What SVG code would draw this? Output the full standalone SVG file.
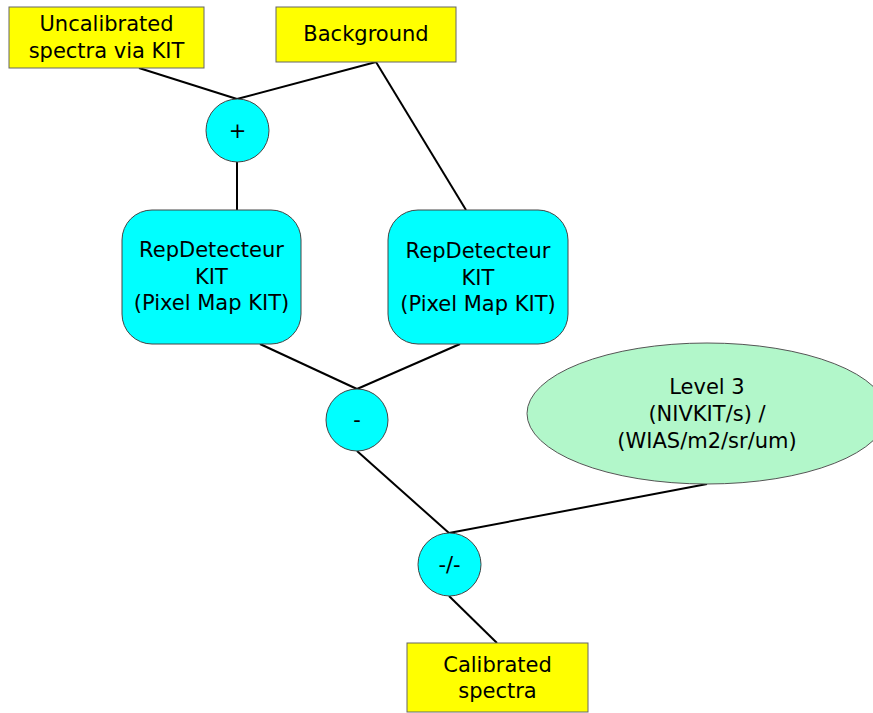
<svg xmlns="http://www.w3.org/2000/svg" width="873" height="713" viewBox="0 0 873 713">
<style>
.box{fill:#ffff00;stroke:#666;stroke-width:1}
.op{fill:#00ffff;stroke:#444;stroke-width:1}
.ell{fill:#b2f7ca;stroke:#555;stroke-width:1}
text{font-family:"DejaVu Sans",sans-serif;font-size:21px;fill:#000;text-anchor:middle}
.edge{stroke:#000;stroke-width:2;fill:none}
</style>
<rect width="873" height="713" fill="#fff"/>
<g id="connectors">
<line class="edge" x1="139" y1="68" x2="237" y2="99"/>
<line class="edge" x1="376" y1="62" x2="237" y2="99"/>
<line class="edge" x1="376" y1="62" x2="466" y2="210"/>
<line class="edge" x1="237" y1="162" x2="237" y2="210"/>
<line class="edge" x1="260" y1="344" x2="357" y2="389"/>
<line class="edge" x1="460" y1="344" x2="357" y2="389"/>
<line class="edge" x1="357" y1="451" x2="449" y2="533"/>
<line class="edge" x1="707" y1="484" x2="449" y2="533"/>
<line class="edge" x1="449" y1="596" x2="497" y2="643"/>
</g>
<g id="uncalibrated">
<rect class="box" x="9" y="7" width="195" height="61"/>
<text x="106.5" y="31">Uncalibrated</text>
<text x="106.5" y="58">spectra via KIT</text>
</g>
<g id="background">
<rect class="box" x="276" y="7" width="180" height="55"/>
<text x="366" y="41">Background</text>
</g>
<g id="plus">
<circle class="op" cx="237.5" cy="130.5" r="31.5"/>
<text x="237.5" y="138">+</text>
</g>
<g id="rep1">
<rect class="op" x="122" y="210" width="179" height="134" rx="30" ry="30"/>
<text x="211.5" y="257">RepDetecteur</text>
<text x="211.5" y="284">KIT</text>
<text x="211.5" y="310">(Pixel Map KIT)</text>
</g>
<g id="rep2">
<rect class="op" x="388" y="210" width="180" height="134" rx="30" ry="30"/>
<text x="478" y="258">RepDetecteur</text>
<text x="478" y="285">KIT</text>
<text x="478" y="311">(Pixel Map KIT)</text>
</g>
<g id="minus">
<circle class="op" cx="357" cy="420" r="31"/>
<text x="357" y="427">-</text>
</g>
<g id="level3">
<ellipse class="ell" cx="707" cy="413.5" rx="180" ry="70.5"/>
<text x="707" y="394">Level 3</text>
<text x="707" y="421">(NIVKIT/s) /</text>
<text x="707" y="448">(WIAS/m2/sr/um)</text>
</g>
<g id="divide">
<circle class="op" cx="449.5" cy="564.5" r="31.5"/>
<text x="449.5" y="572">-/-</text>
</g>
<g id="calibrated">
<rect class="box" x="407" y="643" width="181" height="69"/>
<text x="497.5" y="672">Calibrated</text>
<text x="497.5" y="698">spectra</text>
</g>
</svg>
